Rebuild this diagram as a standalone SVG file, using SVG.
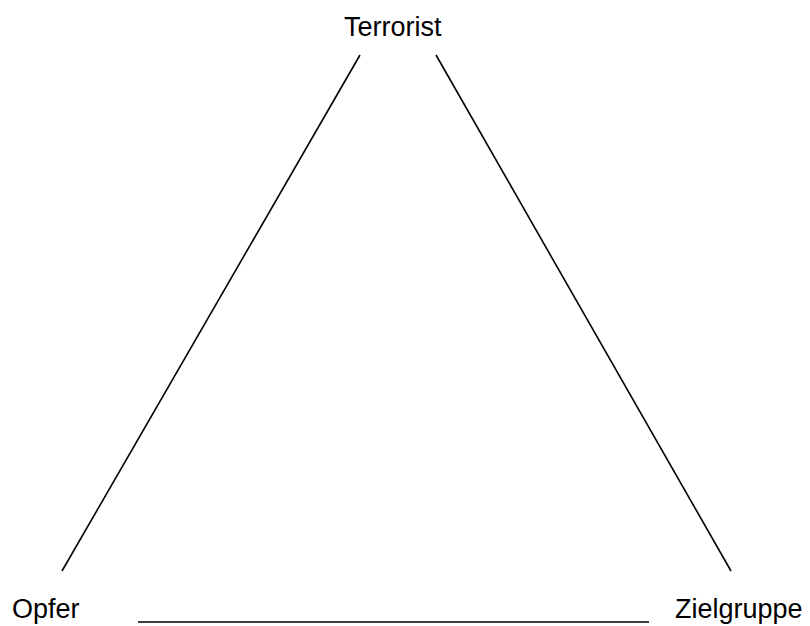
<svg xmlns="http://www.w3.org/2000/svg" width="810" height="626" viewBox="0 0 810 626">
<style>
text{font-family:"Liberation Sans",Arial,sans-serif;font-size:27px;fill:#000}
.c line{stroke:#000;stroke-width:1.6}
</style>
<rect width="810" height="626" fill="#fff"/>
<g id="terrorist"><text x="344" y="36">Terrorist</text></g>
<g id="opfer"><text x="12" y="618">Opfer</text></g>
<g id="zielgruppe"><text x="675" y="618">Zielgruppe</text></g>
<g class="c" id="connectors">
<line x1="360" y1="55" x2="62" y2="571"/>
<line x1="436" y1="55" x2="731" y2="571"/>
<line x1="138" y1="622" x2="649" y2="622"/>
</g>
</svg>
